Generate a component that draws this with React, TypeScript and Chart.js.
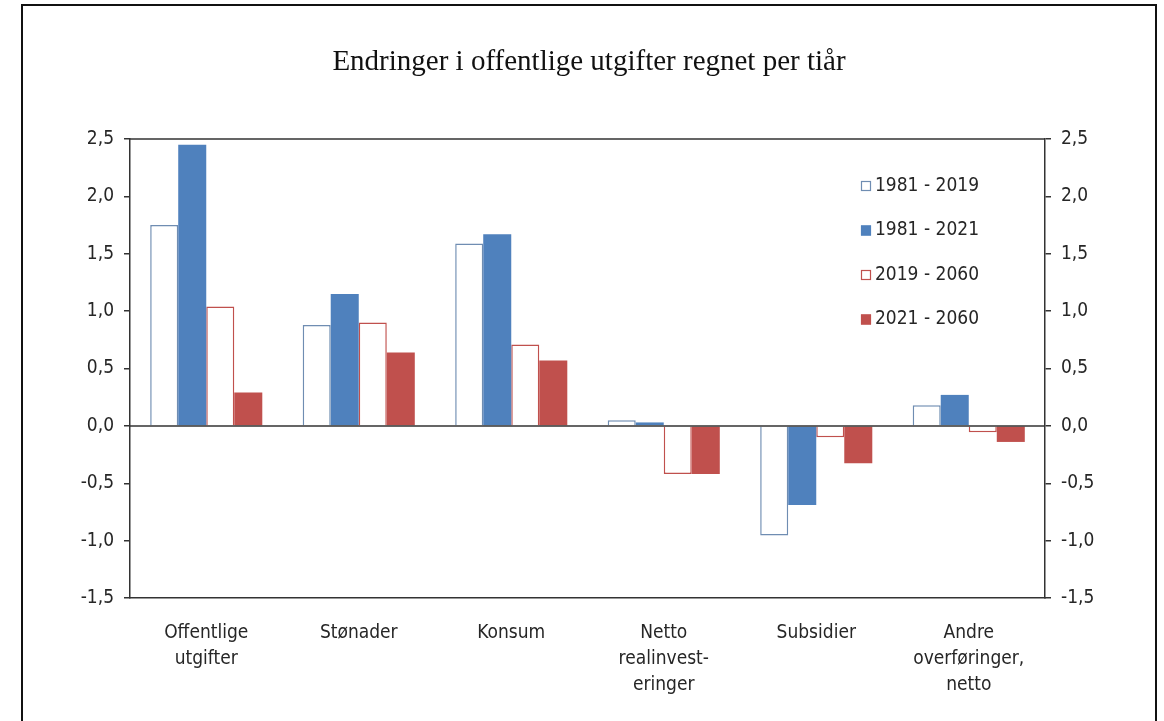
import React, { useEffect, useRef } from "react";
import { Chart, registerables } from "chart.js";

Chart.register(...registerables);

const titleText = "Endringer i offentlige utgifter regnet per tiår";

const categories: (string | string[])[] = [
  ["Offentlige", "utgifter"],
  "Stønader",
  "Konsum",
  ["Netto", "realinvest-", "eringer"],
  "Subsidier",
  ["Andre", "overføringer,", "netto"],
];

const seriesLabels = ["1981 - 2019", "1981 - 2021", "2019 - 2060", "2021 - 2060"];

const s1981_2019 = [1.75, 0.88, 1.59, 0.05, -0.955, 0.18];
const s1981_2021 = [2.45, 1.15, 1.67, 0.03, -0.69, 0.27];
const s2019_2060 = [1.04, 0.9, 0.71, -0.42, -0.1, -0.055];
const s2021_2060 = [0.29, 0.64, 0.57, -0.42, -0.325, -0.14];

const yMin = -1.5;
const yMax = 2.5;
const yStep = 0.5;

const NARROW = "'Liberation Sans Narrow', 'Arial Narrow', 'DejaVu Sans Condensed', sans-serif";
const SERIF = "'Liberation Serif', 'Times New Roman', serif";
const BLUE = "#4F81BD";
const BLUE_EDGE = "#6F8DB2";
const RED = "#C0504D";
const AXIS = "#333333";
const TEXT = "#262626";

const fmt = (v: number | string) => Number(v).toFixed(1).replace(".", ",");

const titlePlugin = {
  id: "titlePlugin",
  afterDraw(chart: any) {
    const { ctx } = chart;
    ctx.save();
    ctx.font = `29px ${SERIF}`;
    ctx.fillStyle = "#111111";
    ctx.textAlign = "center";
    ctx.textBaseline = "middle";
    ctx.fillText(titleText, 589, 62);
    ctx.restore();
  },
};

const frameLines = {
  id: "frameLines",
  afterDatasetsDraw(chart: any) {
    const { ctx, chartArea, scales } = chart;
    const y0 = scales.y.getPixelForValue(0);
    ctx.save();
    ctx.strokeStyle = AXIS;
    ctx.lineWidth = 1.5;
    ctx.beginPath();
    ctx.moveTo(chartArea.left, y0);
    ctx.lineTo(chartArea.right, y0);
    ctx.moveTo(chartArea.left, chartArea.top);
    ctx.lineTo(chartArea.right, chartArea.top);
    ctx.stroke();
    ctx.restore();
  },
};

const insideLegend = {
  id: "insideLegend",
  afterDraw(chart: any) {
    const { ctx } = chart;
    const x = 861;
    const y0 = 186;
    const gap = 44.5;
    const sq = 10;
    ctx.save();
    ctx.font = `19px ${NARROW}`;
    ctx.textBaseline = "middle";
    ctx.textAlign = "left";
    chart.data.datasets.forEach((ds: any, i: number) => {
      const y = y0 + i * gap;
      ctx.fillStyle = ds.backgroundColor;
      ctx.fillRect(x, y - sq / 2, sq, sq);
      ctx.strokeStyle = ds.borderColor;
      ctx.lineWidth = 1.2;
      ctx.strokeRect(x + 0.5, y - sq / 2 + 0.5, sq - 1, sq - 1);
      ctx.fillStyle = TEXT;
      ctx.fillText(ds.label, x + 14, y);
    });
    ctx.restore();
  },
};

export default function App() {
  const ref = useRef<HTMLCanvasElement | null>(null);

  useEffect(() => {
    if (!ref.current) return;
    const yTicks = {
      stepSize: yStep,
      color: TEXT,
      padding: 10,
      font: { family: NARROW, size: 19 },
      callback: (v: any) => fmt(v),
    };
    const chart = new Chart(ref.current, {
      type: "bar",
      data: {
        labels: categories,
        datasets: [
          { label: seriesLabels[0], data: s1981_2019, backgroundColor: "#ffffff", borderColor: BLUE_EDGE, borderWidth: 1.5 },
          { label: seriesLabels[1], data: s1981_2021, backgroundColor: BLUE, borderColor: BLUE, borderWidth: 0 },
          { label: seriesLabels[2], data: s2019_2060, backgroundColor: "#ffffff", borderColor: RED, borderWidth: 1.5 },
          { label: seriesLabels[3], data: s2021_2060, backgroundColor: RED, borderColor: RED, borderWidth: 0 },
        ],
      },
      options: {
        responsive: false,
        animation: false,
        devicePixelRatio: 1,
        categoryPercentage: 0.735,
        barPercentage: 1,
        layout: { padding: { left: 0, right: 0, top: 139, bottom: 0 } },
        plugins: {
          legend: { display: false },
          tooltip: { enabled: false },
          title: { display: false },
        },
        scales: {
          x: {
            grid: { display: true, drawOnChartArea: false, drawTicks: false, color: "rgba(0,0,0,0)" },
            border: { display: true, color: AXIS, width: 1.5 },
            ticks: {
              color: TEXT,
              padding: 22,
              maxRotation: 0,
              autoSkip: false,
              font: { family: NARROW, size: 19, lineHeight: 1.37 },
            },
            afterFit: (s: any) => {
              s.height = 123;
            },
          },
          y: {
            position: "left",
            min: yMin,
            max: yMax,
            grid: { drawOnChartArea: false, tickLength: 6, color: AXIS, lineWidth: 1.5 },
            border: { display: true, color: AXIS, width: 1.5 },
            ticks: yTicks,
            afterFit: (s: any) => {
              s.width = 130;
            },
          },
          y1: {
            position: "right",
            display: true,
            min: yMin,
            max: yMax,
            grid: { drawOnChartArea: false, tickLength: 6, color: AXIS, lineWidth: 1.5 },
            border: { display: true, color: AXIS, width: 1.5 },
            ticks: yTicks,
            afterFit: (s: any) => {
              s.width = 119;
            },
          },
        },
      } as any,
      plugins: [frameLines, insideLegend, titlePlugin],
    });
    return () => chart.destroy();
  }, []);

  return (
    <div style={{ position: "fixed", left: 0, top: 0, width: 1164, height: 721, background: "#ffffff", overflow: "hidden" }}>
      <div
        style={{
          position: "absolute",
          left: 21,
          top: 4,
          width: 1136,
          height: 800,
          border: "2px solid #111",
          boxSizing: "border-box",
        }}
      />
      <canvas ref={ref} width={1164} height={721} style={{ position: "absolute", left: 0, top: 0, width: 1164, height: 721 }} />
    </div>
  );
}
